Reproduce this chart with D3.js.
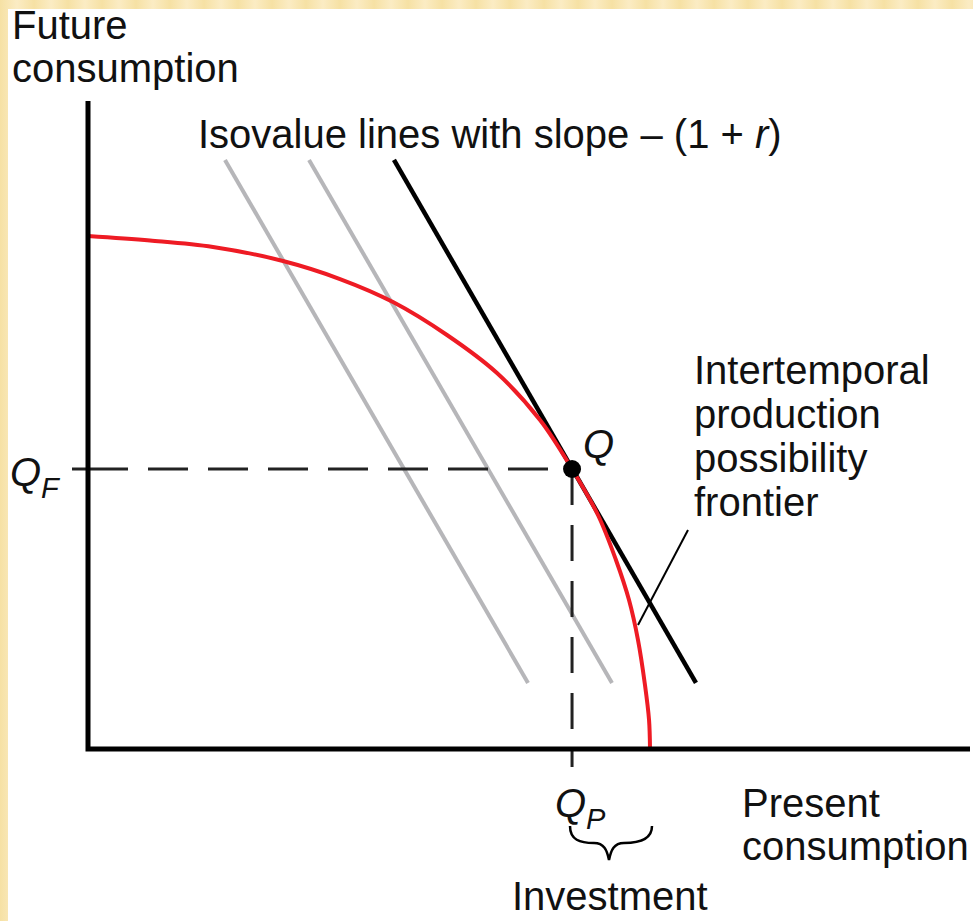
<!DOCTYPE html>
<html><head><meta charset="utf-8">
<script src="https://d3js.org/d3.v7.min.js"></script>
<style>html,body{margin:0;padding:0;background:#fff;}svg{display:block;}</style>
</head><body>
<script>
// ---- data (diagram units: present consumption on x, future consumption on y) ----
const frontierX = [0, 0.703, 1.417, 2.211, 2.857, 3.458, 4.070, 4.637, 5.125, 5.488, 5.782, 5.986, 6.134, 6.236, 6.315, 6.361, 6.372];
const frontierY = [7.917, 7.847, 7.747, 7.531, 7.253, 6.898, 6.389, 5.802, 5.077, 4.321, 3.611, 2.917, 2.299, 1.682, 0.988, 0.448, 0];
const isoNames  = ["gray1", "gray2", "tangent"];
const isoX1 = [1.553, 2.506, 3.469];
const isoY1 = [9.09, 9.09, 9.09];
const isoX2 = [4.989, 5.941, 6.893];
const isoY2 = [1.019, 1.019, 1.019];
const pointQ = [5.488, 4.321];
const axisMax = [10, 10];

const W = 973, H = 921;
const x = d3.scaleLinear().domain([0, 10]).range([88, 970]);
const y = d3.scaleLinear().domain([0, 10]).range([749, 101]);

const svg = d3.select("body").append("svg").attr("width", W).attr("height", H)
  .style("font-family", "'Liberation Sans', Arial, Helvetica, sans-serif");

// background stripes
const defs = svg.append("defs");
const pat = defs.append("pattern").attr("id","stripes").attr("patternUnits","userSpaceOnUse")
  .attr("width", 34).attr("height", 10);
const lg = defs.append("linearGradient").attr("id","sg").attr("x1","0").attr("x2","1").attr("y1","0").attr("y2","0");
lg.append("stop").attr("offset","0").attr("stop-color","#f6e1a4");
lg.append("stop").attr("offset","0.5").attr("stop-color","#fbecc4");
lg.append("stop").attr("offset","1").attr("stop-color","#f6e1a4");
pat.append("rect").attr("width",34).attr("height",10).attr("fill","url(#sg)");
svg.append("rect").attr("width", W).attr("height", H).attr("fill", "url(#stripes)");
svg.append("rect").attr("x", 8).attr("y", 9).attr("width", W - 8).attr("height", H - 9).attr("fill", "#fff");

// isovalue lines
const isoColor = {gray1: "#b6b6b9", gray2: "#b6b6b9", tangent: "#000"};
isoNames.forEach((n, i) => {
  svg.append("line")
    .attr("x1", x(isoX1[i])).attr("y1", y(isoY1[i]))
    .attr("x2", x(isoX2[i])).attr("y2", y(isoY2[i]))
    .attr("stroke", isoColor[n]).attr("stroke-width", n === "tangent" ? 4.5 : 4);
});

// dashed guide lines
svg.append("line").attr("x1", 72).attr("x2", x(0)).attr("y1", y(pointQ[1])).attr("y2", y(pointQ[1]))
  .attr("stroke", "#222").attr("stroke-width", 3);
svg.append("line").attr("x1", x(0)).attr("x2", x(pointQ[0])).attr("y1", y(pointQ[1])).attr("y2", y(pointQ[1]))
  .attr("stroke", "#222").attr("stroke-width", 3).attr("stroke-dasharray", "40,20");
svg.append("line").attr("x1", x(pointQ[0])).attr("x2", x(pointQ[0])).attr("y1", y(pointQ[1])).attr("y2", 767)
  .attr("stroke", "#222").attr("stroke-width", 3).attr("stroke-dasharray", "36,20");

// frontier
const pts = frontierX.map((v, i) => [x(v), y(frontierY[i])]);
svg.append("path").attr("d", d3.line().curve(d3.curveCatmullRom.alpha(0.5))(pts))
  .attr("fill", "none").attr("stroke", "#ee1b24").attr("stroke-width", 4);

// axes
svg.append("path").attr("d", `M${x(0)},${y(axisMax[1])}V${y(0)}H${x(axisMax[0])}`)
  .attr("fill", "none").attr("stroke", "#000").attr("stroke-width", 5).attr("stroke-linejoin", "miter");

// point Q
svg.append("circle").attr("cx", x(pointQ[0])).attr("cy", y(pointQ[1])).attr("r", 9).attr("fill", "#000");

// leader line
svg.append("line").attr("x1", 638).attr("y1", 625).attr("x2", 688).attr("y2", 530)
  .attr("stroke", "#000").attr("stroke-width", 2);

// brace under Q_P
svg.append("path")
  .attr("d", "M570,826 C570,840 580,843 594,843 C604,843 607,850 609,860 C611,850 614,843 624,843 C638,843 652,840 652,826")
  .attr("fill", "none").attr("stroke", "#000").attr("stroke-width", 2.5);

// text
const fs = 40;
function txt(s, tx, ty, opts = {}) {
  return svg.append("text").attr("x", tx).attr("y", ty).attr("font-size", opts.size || fs)
    .attr("fill", "#111").attr("font-style", opts.italic ? "italic" : null).text(s);
}
txt("Future", 12, 39);
txt("consumption", 12, 82);
const iso = svg.append("text").attr("x", 198).attr("y", 148).attr("font-size", fs).attr("fill", "#111");
iso.append("tspan").text("Isovalue lines with slope \u2013 (1 + ");
iso.append("tspan").attr("font-style", "italic").text("r");
iso.append("tspan").text(")");
["Intertemporal", "production", "possibility", "frontier"].forEach((s, i) => txt(s, 694, 384 + i * 44));
txt("Q", 583, 458, {italic: true});
txt("Q", 10, 486, {italic: true});
txt("F", 41, 498, {italic: true, size: 29});
txt("Q", 555, 817, {italic: true});
txt("P", 586, 829, {italic: true, size: 29});
txt("Present", 742, 817);
txt("consumption", 742, 860);
txt("Investment", 512, 910);
</script>
</body></html>
